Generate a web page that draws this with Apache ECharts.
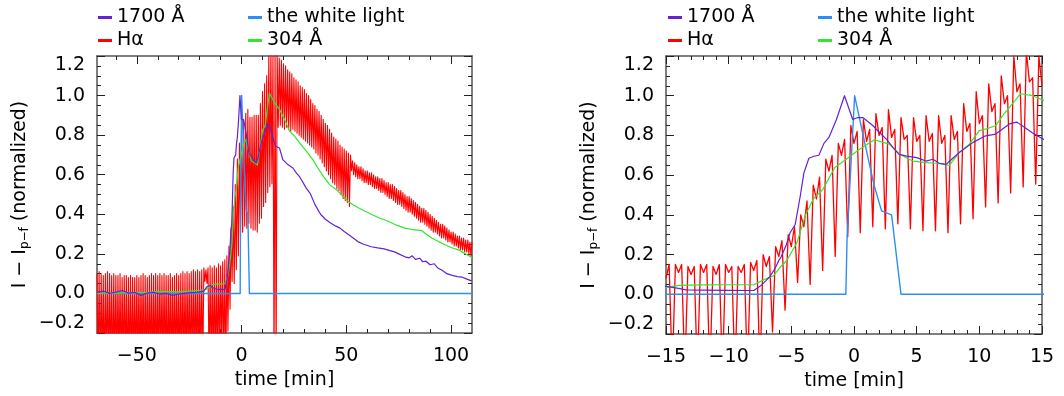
<!DOCTYPE html>
<html>
<head>
<meta charset="utf-8">
<script src="https://cdn.jsdelivr.net/npm/echarts@6/dist/echarts.min.js"></script>
<style>
  html, body { margin: 0; padding: 0; background: #fff; }
  #chart { width: 1064px; height: 396px; }
</style>
</head>
<body>
<div id="chart"></div>
<script>
// ---- data ---------------------------------------------------------------
const seriesNames = ['1700 Å', 'the white light', 'Hα', '304 Å'];

// 1700 Å light curve: [time (min), normalized intensity]
const uv1700 = [
  [-69, 0.005], [-66, 0.012], [-63, 0.0], [-60, 0.006], [-57, 0.015], [-54, 0.002],
  [-51, 0.006], [-48, -0.01], [-45, 0.002], [-42, 0.006], [-39, -0.004], [-36, 0.0],
  [-33, -0.01], [-30, -0.004], [-27, 0.0], [-24, 0.004], [-21, 0.006], [-18, 0.012],
  [-16.5, 0.034], [-15, 0.04], [-14.5, 0.035], [-14, 0.03], [-13.4, 0.022], [-12, 0.021],
  [-10, 0.02], [-8, 0.019], [-7.5, 0.04], [-7, 0.07], [-6.7, 0.09], [-6.3, 0.13],
  [-6, 0.17], [-5.8, 0.19], [-5.4, 0.25], [-5.1, 0.31], [-4.7, 0.35], [-4.3, 0.49],
  [-4, 0.61], [-3.6, 0.685], [-3.2, 0.695], [-2.8, 0.70], [-2.4, 0.76], [-2, 0.79],
  [-1.4, 0.88], [-0.76, 1.0], [-0.1, 0.88], [0.3, 0.89], [0.7, 0.89], [1, 0.875],
  [1.5, 0.85], [1.8, 0.83], [2.6, 0.78], [3.1, 0.74], [3.6, 0.705], [4.2, 0.696],
  [5, 0.688], [5.75, 0.671], [6.3, 0.68], [6.8, 0.66], [7.35, 0.654], [7.8, 0.68],
  [8.4, 0.714], [9.5, 0.765], [10.5, 0.798], [11.3, 0.807], [12.4, 0.858], [13, 0.867],
  [13.6, 0.841], [14.25, 0.812], [15, 0.785], [16.2, 0.744], [18.1, 0.735], [19.7, 0.676],
  [22.1, 0.651], [24.5, 0.634], [26.4, 0.606], [27.7, 0.59], [30.9, 0.532], [32.9, 0.503],
  [35, 0.45], [37.7, 0.40], [40, 0.375], [42.5, 0.356], [45, 0.34], [47, 0.33],
  [49, 0.313], [52, 0.29], [55.5, 0.262], [58, 0.25], [61.9, 0.236], [65, 0.23],
  [68, 0.225], [70, 0.219], [73, 0.21], [75, 0.20], [78, 0.185], [80, 0.18],
  [81.5, 0.19], [83, 0.172], [85, 0.178], [86.5, 0.16], [88, 0.163], [90, 0.145],
  [92, 0.15], [93.5, 0.13], [95.7, 0.117], [98, 0.10], [100.6, 0.091], [103, 0.085],
  [105.4, 0.082], [107, 0.075], [109.4, 0.065], [110, 0.066]
];

// white light
const whiteLight = [
  [-69, 0], [-0.65, 0], [-0.55, 0.29], [0.05, 1.0], [0.9, 0.75], [1.6, 0.55],
  [2.2, 0.42], [3.0, 0.40], [3.75, 0], [110, 0]
];

// 304 Å
const euv304 = [
  [-69, 0.0], [-60, 0.002], [-50, 0.005], [-45, 0.004], [-40, 0.01], [-30, 0.008],
  [-25, 0.012], [-20, 0.015], [-17, 0.02], [-15, 0.035], [-14, 0.045], [-12, 0.047],
  [-10, 0.048], [-7.94, 0.049], [-7.13, 0.075], [-6.45, 0.092], [-5.9, 0.136], [-5.37, 0.17],
  [-4.55, 0.26], [-3.87, 0.40], [-3.2, 0.485], [-2.49, 0.527], [-1.55, 0.637], [-0.62, 0.68],
  [0.44, 0.73], [1.63, 0.778], [2.3, 0.765], [2.83, 0.756], [3.49, 0.714], [4.16, 0.688],
  [4.69, 0.671], [5.75, 0.663], [6.55, 0.66], [7.61, 0.649], [8.4, 0.714], [9.2, 0.756],
  [10, 0.824], [10.5, 0.832], [11.3, 0.849], [11.86, 0.90], [12.65, 0.96], [13.3, 1.01],
  [14.25, 1.0], [15, 0.98], [15.7, 0.964], [18.1, 0.93], [20.5, 0.88], [22.9, 0.82],
  [25.3, 0.795], [27.7, 0.761], [30.9, 0.719], [34, 0.676], [36.4, 0.634], [39.3, 0.588],
  [42, 0.55], [45.8, 0.52], [48, 0.495], [50.6, 0.468], [53, 0.45], [55.5, 0.434],
  [58, 0.42], [61.9, 0.40], [66, 0.38], [70, 0.365], [74, 0.345], [78, 0.33],
  [82, 0.322], [86.1, 0.317], [88, 0.30], [90.9, 0.279], [94, 0.262], [97.4, 0.245],
  [100, 0.232], [103.8, 0.219], [106, 0.205], [109.4, 0.185], [110, 0.183]
];

// H-alpha, left panel: per-minute maxima (t = -69..110) and the dips half a minute later
const haLeftStart = -69;
const haLeftTop = [
  0.10, 0.11, 0.10, 0.09, 0.10, 0.11, 0.10, 0.09, 0.10, 0.09,
  0.09, 0.10, 0.08, 0.09, 0.09, 0.08, 0.09, 0.08, 0.08, 0.09,
  0.08, 0.09, 0.10, 0.09, 0.08, 0.09, 0.10, 0.09, 0.10, 0.09,
  0.10, 0.09, 0.10, 0.09, 0.09, 0.10, 0.08, 0.09, 0.10, 0.09,
  0.10, 0.11, 0.10, 0.11, 0.10, 0.11, 0.12, 0.11, 0.12, 0.11,
  0.12, 0.13, 0.12, 0.13, 0.14, 0.13, 0.14, 0.13, 0.15, 0.14,
  0.16, 0.17, 0.19, 0.24, 0.33, 0.44, 0.55, 0.68, 0.76, 0.84,
  0.88, 0.91, 0.93, 0.89, 0.89, 0.90, 0.90, 0.90, 0.96, 1.02,
  1.06, 1.10, 1.20, 1.22, 1.20, 1.22, 1.21, 1.19, 1.18, 1.16,
  1.15, 1.13, 1.12, 1.11, 1.09, 1.08, 1.07, 1.05, 1.04, 1.03,
  1.01, 1.00, 0.98, 0.96, 0.95, 0.93, 0.92, 0.90, 0.88, 0.86,
  0.85, 0.83, 0.81, 0.79, 0.78, 0.77, 0.75, 0.74, 0.73, 0.72,
  0.71, 0.70, 0.67, 0.66, 0.65, 0.64, 0.64, 0.63, 0.62, 0.62,
  0.61, 0.61, 0.60, 0.59, 0.59, 0.58, 0.58, 0.57, 0.56, 0.56,
  0.55, 0.55, 0.54, 0.53, 0.52, 0.52, 0.51, 0.50, 0.49, 0.49,
  0.48, 0.47, 0.46, 0.45, 0.44, 0.43, 0.43, 0.42, 0.41, 0.40,
  0.39, 0.38, 0.37, 0.36, 0.35, 0.35, 0.34, 0.33, 0.32, 0.31,
  0.31, 0.30, 0.29, 0.29, 0.28, 0.28, 0.27, 0.27, 0.26, 0.26
];
const haLeftDip = [
  -0.40, -0.42, -0.40, -0.45, -0.40, -0.41, -0.40, -0.44, -0.40, -0.42,
  -0.40, -0.43, -0.40, -0.41, -0.45, -0.40, -0.42, -0.40, -0.41, -0.40,
  -0.42, -0.40, -0.44, -0.40, -0.41, -0.40, -0.43, -0.40, -0.42, -0.40,
  -0.40, -0.41, -0.40, -0.45, -0.40, -0.42, -0.40, -0.41, -0.40, -0.43,
  -0.41, -0.40, -0.42, -0.40, -0.44, -0.40, -0.41, -0.40, -0.42, -0.40,
  -0.40, 0.06, 0.05, -0.40, -0.42, -0.40, -0.41, -0.40, -0.35, -0.30,
  -0.40, -0.40, -0.19, -0.08, 0.06, 0.05, 0.12, 0.19, 0.29, 0.31,
  0.34, 0.33, 0.355, 0.33, 0.32, 0.32, 0.31, 0.355, 0.38, 0.44,
  0.46, 0.51, 0.54, 0.555, -0.40, -0.40, 0.84, 0.85, 0.84, 0.83,
  0.84, 0.83, 0.82, 0.83, 0.82, 0.81, 0.80, 0.79, 0.78, 0.77,
  0.76, 0.75, 0.74, 0.73, 0.71, 0.70, 0.68, 0.66, 0.64, 0.62,
  0.60, 0.58, 0.56, 0.55, 0.53, 0.52, 0.50, 0.48, 0.47, 0.46,
  0.44, 0.62, 0.60, 0.59, 0.58, 0.58, 0.57, 0.56, 0.56, 0.55,
  0.55, 0.54, 0.53, 0.53, 0.52, 0.51, 0.51, 0.50, 0.49, 0.48,
  0.48, 0.47, 0.46, 0.45, 0.45, 0.44, 0.43, 0.42, 0.41, 0.41,
  0.40, 0.39, 0.38, 0.37, 0.36, 0.36, 0.35, 0.34, 0.33, 0.32,
  0.31, 0.31, 0.30, 0.29, 0.28, 0.28, 0.27, 0.26, 0.26, 0.25,
  0.24, 0.24, 0.23, 0.22, 0.22, 0.21, 0.21, 0.20, 0.19
];

// H-alpha, right panel: 15 s cadence from -15 to 15 min
const haRightStart = -15;
const haRightStep = 0.25;
const haRight = [
  0.08, 0.15, -0.40, 0.15, 0.11, 0.15, -0.40, 0.14, 0.10, 0.14,
  -0.40, 0.15, 0.11, 0.15, -0.40, 0.14, 0.10, 0.15, -0.40, 0.15,
  0.11, 0.14, -0.40, 0.14, 0.11, 0.15, -0.40, 0.16, 0.12, 0.17,
  -0.40, 0.20, 0.14, 0.19, -0.19, 0.24, 0.19, 0.27, -0.08, 0.30,
  0.24, 0.34, 0.06, 0.40, 0.34, 0.47, 0.05, 0.55, 0.48, 0.59,
  0.12, 0.68, 0.62, 0.70, 0.19, 0.76, 0.70, 0.78, 0.29, 0.85,
  0.76, 0.82, 0.31, 0.88, 0.77, 0.83, 0.34, 0.91, 0.80, 0.84,
  0.33, 0.93, 0.79, 0.83, 0.355, 0.89, 0.78, 0.80, 0.33, 0.89,
  0.77, 0.80, 0.32, 0.90, 0.77, 0.81, 0.32, 0.90, 0.76, 0.80,
  0.31, 0.90, 0.78, 0.82, 0.355, 0.96, 0.82, 0.86, 0.38, 1.02,
  0.86, 0.90, 0.44, 1.06, 0.92, 0.96, 0.46, 1.10, 0.96, 1.00,
  0.51, 1.20, 1.02, 1.06, 0.54, 1.22, 1.07, 1.09, 0.555, 1.20,
  1.05
];

// axis ranges and tick positions
const leftRange = [-69, 110];
const leftMajorTicks = [-50, 0, 50, 100];
const leftMinorTicks = [-60, -40, -30, -20, -10, 10, 20, 30, 40, 60, 70, 80, 90];
const rightRange = [-15, 15];
const yRange = [-0.2, 1.2];

const colors = { '1700 Å': '#6222d6', 'the white light': '#2b8ef5', 'Hα': '#ff0000', '304 Å': '#2ee82e' };

// ---- build -------------------------------------------------------------
const haLeft = [];
haLeftTop.forEach((v, i) => {
  haLeft.push([haLeftStart + i, v]);
  if (i < haLeftDip.length) haLeft.push([haLeftStart + i + 0.5, haLeftDip[i]]);
});
const haRightData = haRight.map((v, i) => [haRightStart + i * haRightStep, v]);

const FONT = 'DejaVu Sans';
const INK = '#000';
const BOX = { show: true, onZero: false, lineStyle: { color: '#555', width: 1.5 } };
const NO_LINE = { show: false, onZero: false };
const minus = s => String(s).replace('-', '\u2212');

function xAxes(grid, range, opts) {
  const base = { type: 'value', gridIndex: grid, min: range[0], max: range[1], splitLine: { show: false } };
  const tickBase = { show: true, inside: true, lineStyle: { color: '#222', width: 1 } };
  const out = [];
  ['bottom', 'top'].forEach(pos => {
    const labels = pos === 'bottom';
    out.push(Object.assign({}, base, opts.major, {
      position: pos,
      axisLine: BOX,
      axisTick: Object.assign({}, tickBase, { length: 8 }, opts.major.axisTick || {}),
      minorTick: opts.minorSplit ? { show: true, splitNumber: opts.minorSplit, length: 4, lineStyle: { color: '#222' } } : { show: false },
      axisLabel: labels ? Object.assign({ show: true, margin: 14, fontFamily: FONT, fontSize: 19, color: INK, formatter: minus }, opts.major.axisLabel || {}) : { show: false },
      name: labels ? 'time [min]' : '',
      nameLocation: 'middle',
      nameGap: 37,
      nameTextStyle: { fontFamily: FONT, fontSize: 19, color: INK }
    }));
    if (opts.minorValues) {
      out.push(Object.assign({}, base, {
        position: pos,
        axisLine: NO_LINE,
        axisTick: Object.assign({}, tickBase, { length: 4, customValues: opts.minorValues }),
        axisLabel: { show: false }
      }));
    }
  });
  return out;
}

function yAxes(grid) {
  const base = {
    type: 'value', gridIndex: grid, min: yRange[0], max: yRange[1], interval: 0.2,
    splitLine: { show: false }, axisLine: BOX,
    axisTick: { show: true, inside: true, length: 8, lineStyle: { color: '#222' } },
    minorTick: { show: true, splitNumber: 4, length: 4, lineStyle: { color: '#222' } }
  };
  return [
    Object.assign({}, base, {
      position: 'left',
      axisLabel: {
        show: true, margin: 12, fontFamily: FONT, fontSize: 19, color: INK,
        formatter: v => minus(v.toFixed(1)),
        verticalAlignMaxLabel: 'top', verticalAlignMinLabel: 'bottom'
      },
      name: 'I \u2212 I{s|p\u2212f} (normalized)',
      nameLocation: 'middle',
      nameGap: 66,
      nameTextStyle: {
        fontFamily: FONT, fontSize: 19, color: INK,
        rich: { s: { fontFamily: FONT, fontSize: 12, color: INK, padding: [9, 0, 0, 0] } }
      }
    }),
    Object.assign({}, base, { position: 'right', axisLabel: { show: false } })
  ];
}

const leftX = xAxes(0, leftRange, {
  major: { axisTick: { customValues: leftMajorTicks }, axisLabel: { customValues: leftMajorTicks } },
  minorValues: leftMinorTicks
});
const rightX = xAxes(1, rightRange, { major: { interval: 5 }, minorSplit: 5 });
const xAxis = leftX.concat(rightX);
const rightXIndex = leftX.length;
const yAxis = yAxes(0).concat(yAxes(1));

function panelSeries(xi, yi, ha, haWidth) {
  const line = (name, data, width) => ({
    name, type: 'line', data, xAxisIndex: xi, yAxisIndex: yi,
    showSymbol: false, symbol: 'none', animation: false,
    lineStyle: { color: colors[name], width, join: 'round' },
    itemStyle: { color: colors[name] }
  });
  return [
    line('Hα', ha, haWidth),
    line('the white light', whiteLight, 1.4),
    line('304 Å', euv304, 1.2),
    line('1700 Å', uv1700, 1.2)
  ];
}

const legendBase = {
  icon: 'rect', itemWidth: 14, itemHeight: 3, padding: 0, selectedMode: false,
  textStyle: { fontFamily: FONT, fontSize: 19, color: INK }
};
const legendSlots = [
  ['1700 Å', 0, 0], ['the white light', 1, 0], ['Hα', 0, 1], ['304 Å', 1, 1]
];
const legend = [];
[[98, 248], [668, 818]].forEach(cols => {
  legendSlots.forEach(([name, c, r]) => {
    legend.push(Object.assign({}, legendBase, { data: [name], left: cols[c], top: 8 + r * 23 }));
  });
});

const chart = echarts.init(document.getElementById('chart'), null, { renderer: 'canvas' });
chart.setOption({
  backgroundColor: '#fff',
  animation: false,
  legend,
  grid: [
    { left: 97, top: 56, width: 375, height: 277 },
    { left: 666, top: 56, width: 376, height: 278 }
  ],
  xAxis,
  yAxis,
  series: panelSeries(0, 0, haLeft, 1.1).concat(panelSeries(rightXIndex, 2, haRightData, 1.3))
});
</script>
</body>
</html>
